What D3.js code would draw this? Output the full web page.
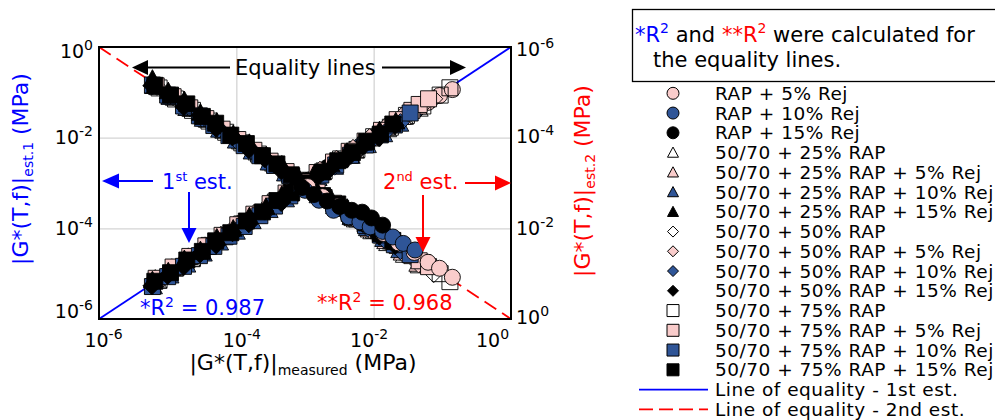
<!DOCTYPE html>
<html><head><meta charset="utf-8">
<script src="https://cdn.jsdelivr.net/npm/d3@7"></script>
<style>
body{margin:0;background:#fff;}
svg{display:block;font-family:"DejaVu Sans",Verdana,sans-serif;}
text{white-space:pre;}
</style></head><body>
<svg id="chart" width="995" height="420"></svg>
<script>
// ---------------- DATA ----------------
const seriesNames = ["RAP + 5% Rej","RAP + 10% Rej","RAP + 15% Rej",
  "50/70 + 25% RAP","50/70 + 25% RAP + 5% Rej","50/70 + 25% RAP + 10% Rej","50/70 + 25% RAP + 15% Rej",
  "50/70 + 50% RAP","50/70 + 50% RAP + 5% Rej","50/70 + 50% RAP + 10% Rej","50/70 + 50% RAP + 15% Rej",
  "50/70 + 75% RAP","50/70 + 75% RAP + 5% Rej","50/70 + 75% RAP + 10% Rej","50/70 + 75% RAP + 15% Rej"];
const lineNames = ["Line of equality - 1st est.","Line of equality - 2nd est."];
const tickVals = [1e-6,1e-4,1e-2,1];
const tickExps = ["-6","-4","-2","0"];
const rightTickExps = ["-6","-4","-2","0"];
const equalityEnds = [1e-6,1];

// |G*| measured (MPa), one list per series
const measured = [
 [1.1e-3,1.8e-3,3.0e-3,5.0e-3,8.3e-3,1.4e-2,2.3e-2,3.9e-2,6.2e-2,9.1e-2,1.4e-1],
 [1.0e-3,1.6e-3,2.6e-3,4.3e-3,6.3e-3,8.9e-3,1.35e-2,1.9e-2,2.7e-2,4.0e-2],
 [9.0e-4,1.35e-3,2.1e-3,3.2e-3,4.8e-3,6.8e-3,9.3e-3,1.35e-2],
 [7.2e-6,1.25e-5,2.2e-5,3.8e-5,6.6e-5,1.15e-4,2.0e-4,3.5e-4,6.1e-4,1.05e-3,1.8e-3,3.1e-3,5.4e-3,9.4e-3,1.6e-2,2.8e-2,4.6e-2],
 [6.6e-6,1.15e-5,2.0e-5,3.5e-5,6.0e-5,1.05e-4,1.8e-4,3.2e-4,5.5e-4,9.5e-4,1.65e-3,2.9e-3,5.0e-3,8.6e-3,1.5e-2,2.6e-2,4.4e-2],
 [6.2e-6,1.08e-5,1.9e-5,3.3e-5,5.7e-5,1.0e-4,1.7e-4,3.0e-4,5.2e-4,9.0e-4,1.55e-3,2.7e-3,4.7e-3,8.1e-3,1.4e-2,2.4e-2],
 [6.0e-6,1.02e-5,1.75e-5,3.0e-5,5.2e-5,9.0e-5,1.55e-4,2.7e-4,4.6e-4,8.0e-4,1.38e-3,2.4e-3,4.1e-3,7.1e-3,1.22e-2,2.1e-2],
 [7.0e-6,1.2e-5,2.1e-5,3.7e-5,6.4e-5,1.1e-4,1.95e-4,3.4e-4,5.9e-4,1.0e-3,1.75e-3,3.0e-3,5.3e-3,9.2e-3,1.6e-2,2.8e-2,4.8e-2,7.5e-2],
 [6.4e-6,1.1e-5,1.95e-5,3.4e-5,5.9e-5,1.02e-4,1.8e-4,3.1e-4,5.4e-4,9.4e-4,1.65e-3,2.85e-3,5.0e-3,8.7e-3,1.5e-2,2.6e-2,4.5e-2],
 [6.1e-6,1.05e-5,1.85e-5,3.2e-5,5.6e-5,9.7e-5,1.7e-4,2.95e-4,5.1e-4,8.9e-4,1.55e-3,2.7e-3,4.7e-3,8.2e-3,1.42e-2,2.45e-2],
 [5.9e-6,1.0e-5,1.72e-5,2.95e-5,5.1e-5,8.8e-5,1.52e-4,2.6e-4,4.5e-4,7.8e-4,1.35e-3,2.35e-3,4.05e-3,7.0e-3,1.2e-2,2.05e-2],
 [7.5e-6,1.3e-5,2.3e-5,4.0e-5,7.0e-5,1.2e-4,2.1e-4,3.7e-4,6.4e-4,1.1e-3,1.9e-3,3.3e-3,5.7e-3,1.0e-2,1.75e-2,3.0e-2,5.2e-2,9.3e-2,1.29e-1],
 [6.8e-6,1.2e-5,2.1e-5,3.6e-5,6.2e-5,1.05e-4,1.8e-4,3.1e-4,5.3e-4,9.0e-4,1.5e-3,2.6e-3,4.4e-3,7.5e-3,1.3e-2,2.2e-2,3.6e-2,4.6e-2,6.3e-2],
 [6.0e-6,1.0e-5,1.7e-5,2.9e-5,4.7e-5,7.8e-5,1.3e-4,2.2e-4,3.6e-4,6.0e-4,1.0e-3,1.7e-3,2.8e-3,4.6e-3,7.6e-3,1.25e-2,2.0e-2,3.4e-2],
 [6.5e-6,1.1e-5,1.9e-5,3.2e-5,5.0e-5,8.3e-5,1.4e-4,2.4e-4,3.9e-4,6.3e-4,1.05e-3,1.8e-3,3.0e-3,4.9e-3,7.9e-3,1.25e-2,1.9e-2]
];
// |G*| 1st estimation (MPa)
const est1 = [
 [1.15e-3,1.9e-3,3.1e-3,5.2e-3,8.6e-3,1.45e-2,2.4e-2,4.0e-2,6.0e-2,8.5e-2,1.15e-1],
 [1.05e-3,1.6e-3,2.5e-3,4.2e-3,6.5e-3,9.0e-3,1.3e-2,1.9e-2,2.8e-2,3.9e-2],
 [9.5e-4,1.3e-3,2.2e-3,3.1e-3,5.0e-3,6.6e-3,9.8e-3,1.3e-2],
 [7.0e-6,1.3e-5,2.1e-5,3.9e-5,6.4e-5,1.2e-4,1.95e-4,3.6e-4,5.9e-4,1.1e-3,1.75e-3,3.2e-3,5.2e-3,9.7e-3,1.55e-2,2.9e-2,4.4e-2],
 [7.8e-6,1.35e-5,2.35e-5,4.1e-5,7.0e-5,1.22e-4,2.1e-4,3.7e-4,6.4e-4,1.1e-3,1.9e-3,3.3e-3,5.7e-3,9.8e-3,1.7e-2,2.9e-2,4.9e-2],
 [5.3e-6,9.2e-6,1.6e-5,2.8e-5,4.9e-5,8.5e-5,1.45e-4,2.55e-4,4.4e-4,7.7e-4,1.3e-3,2.3e-3,4.0e-3,6.9e-3,1.2e-2,2.05e-2],
 [7.2e-6,1.13e-5,2.1e-5,3.3e-5,6.3e-5,9.9e-5,1.86e-4,3.0e-4,5.5e-4,8.9e-4,1.67e-3,2.6e-3,4.9e-3,7.8e-3,1.47e-2,2.3e-2],
 [6.8e-6,1.25e-5,2.0e-5,3.8e-5,6.2e-5,1.15e-4,1.9e-4,3.5e-4,5.7e-4,1.05e-3,1.7e-3,3.1e-3,5.1e-3,9.5e-3,1.55e-2,2.9e-2,4.6e-2,7.2e-2],
 [7.5e-6,1.3e-5,2.3e-5,4.0e-5,6.9e-5,1.2e-4,2.1e-4,3.6e-4,6.3e-4,1.1e-3,1.9e-3,3.3e-3,5.8e-3,1.0e-2,1.75e-2,3.0e-2,5.1e-2],
 [5.4e-6,9.3e-6,1.62e-5,2.8e-5,4.9e-5,8.5e-5,1.5e-4,2.6e-4,4.5e-4,7.8e-4,1.35e-3,2.35e-3,4.1e-3,7.2e-3,1.25e-2,2.15e-2],
 [5.4e-6,9.1e-6,1.44e-5,2.7e-5,4.3e-5,8.0e-5,1.26e-4,2.4e-4,3.7e-4,7.1e-4,1.13e-3,2.1e-3,3.4e-3,6.4e-3,1.0e-2,1.87e-2],
 [7.3e-6,1.35e-5,2.2e-5,4.2e-5,6.8e-5,1.25e-4,2.0e-4,3.8e-4,6.2e-4,1.15e-3,1.85e-3,3.4e-3,5.5e-3,1.05e-2,1.7e-2,3.1e-2,5.0e-2,8.7e-2,1.26e-1],
 [7.9e-6,1.4e-5,2.4e-5,4.1e-5,7.0e-5,1.2e-4,2.05e-4,3.5e-4,6.0e-4,1.0e-3,1.7e-3,2.9e-3,5.0e-3,8.4e-3,1.45e-2,2.5e-2,4.0e-2,5.4e-2,7.2e-2],
 [5.2e-6,8.6e-6,1.45e-5,2.5e-5,4.0e-5,6.7e-5,1.1e-4,1.9e-4,3.1e-4,5.2e-4,8.8e-4,1.5e-3,2.5e-3,4.1e-3,6.9e-3,1.15e-2,1.9e-2,3.5e-2],
 [6.8e-6,1.05e-5,2.0e-5,3.1e-5,5.3e-5,8.0e-5,1.45e-4,2.3e-4,4.1e-4,6.1e-4,1.1e-3,1.75e-3,3.1e-3,4.7e-3,8.2e-3,1.2e-2,2.0e-2]
];
// |G*| 2nd estimation (MPa)
const est2 = [
 [1.2e-3,2.0e-3,3.2e-3,5.2e-3,8.3e-3,1.3e-2,2.1e-2,3.4e-2,5.6e-2,7.6e-2,1.2e-1],
 [1.45e-3,2.4e-3,4.0e-3,5.6e-3,7.2e-3,9.3e-3,1.17e-2,1.55e-2,2.15e-2,3.0e-2],
 [1.26e-3,1.8e-3,2.5e-3,3.3e-3,4.0e-3,4.4e-3,5.9e-3,8.5e-3],
 [7.6e-6,1.3e-5,2.3e-5,4.0e-5,7.0e-5,1.2e-4,2.1e-4,3.7e-4,6.5e-4,1.15e-3,2.0e-3,3.5e-3,6.3e-3,1.15e-2,2.1e-2,3.8e-2,6.5e-2],
 [7.0e-6,1.2e-5,2.15e-5,3.7e-5,6.4e-5,1.1e-4,1.95e-4,3.45e-4,6.0e-4,1.05e-3,1.85e-3,3.3e-3,5.9e-3,1.05e-2,1.9e-2,3.4e-2,6.0e-2],
 [7.2e-6,1.25e-5,2.2e-5,3.8e-5,6.6e-5,1.15e-4,2.0e-4,3.5e-4,6.1e-4,1.05e-3,1.85e-3,3.2e-3,5.6e-3,9.8e-3,1.7e-2,3.0e-2],
 [5.0e-6,9.4e-6,1.48e-5,2.8e-5,4.4e-5,8.3e-5,1.3e-4,2.5e-4,3.9e-4,7.3e-4,1.17e-3,2.2e-3,3.5e-3,6.6e-3,1.04e-2,2.0e-2],
 [7.4e-6,1.25e-5,2.2e-5,3.9e-5,6.8e-5,1.2e-4,2.1e-4,3.7e-4,6.4e-4,1.1e-3,1.95e-3,3.4e-3,6.1e-3,1.1e-2,1.95e-2,3.5e-2,6.2e-2,1.0e-1],
 [6.9e-6,1.2e-5,2.1e-5,3.7e-5,6.4e-5,1.1e-4,1.95e-4,3.4e-4,5.9e-4,1.05e-3,1.85e-3,3.3e-3,5.9e-3,1.05e-2,1.9e-2,3.4e-2,6.1e-2],
 [7.0e-6,1.2e-5,2.1e-5,3.7e-5,6.4e-5,1.1e-4,1.95e-4,3.4e-4,5.9e-4,1.03e-3,1.8e-3,3.2e-3,5.6e-3,9.9e-3,1.75e-2,3.1e-2],
 [7.1e-6,1.1e-5,2.07e-5,3.2e-5,6.2e-5,9.7e-5,1.84e-4,2.9e-4,5.4e-4,8.6e-4,1.63e-3,2.6e-3,4.9e-3,7.9e-3,1.5e-2,2.4e-2],
 [8.0e-6,1.4e-5,2.5e-5,4.3e-5,7.6e-5,1.3e-4,2.3e-4,4.0e-4,7.0e-4,1.2e-3,2.1e-3,3.6e-3,6.2e-3,1.1e-2,1.9e-2,3.3e-2,5.7e-2,1.0e-1,1.5e-1],
 [7.2e-6,1.25e-5,2.2e-5,3.8e-5,6.5e-5,1.1e-4,1.9e-4,3.3e-4,5.6e-4,9.5e-4,1.6e-3,2.8e-3,4.7e-3,8.0e-3,1.4e-2,2.4e-2,4.0e-2,5.2e-2,7.0e-2],
 [6.9e-6,1.15e-5,2.0e-5,3.3e-5,5.4e-5,9.0e-5,1.5e-4,2.5e-4,4.1e-4,6.9e-4,1.15e-3,1.95e-3,3.2e-3,5.3e-3,8.7e-3,1.4e-2,2.3e-2,3.8e-2],
 [7.0e-6,1.15e-5,1.8e-5,3.4e-5,4.8e-5,8.8e-5,1.35e-4,2.5e-4,3.8e-4,6.6e-4,1.0e-3,1.9e-3,2.9e-3,5.1e-3,7.6e-3,1.3e-2,1.85e-2]
];

// ---------------- STYLE ----------------
const seriesShapes = ["circle","circle","circle","triangle","triangle","triangle","triangle",
  "diamond","diamond","diamond","diamond","square","square","square","square"];
const PINK="#F9CCCB", BLUE="#2F5597", BLACK="#000000", WHITE="none";
const seriesFills = [PINK,BLUE,BLACK, WHITE,PINK,BLUE,BLACK, WHITE,PINK,BLUE,BLACK, WHITE,PINK,BLUE,BLACK];
const plotSize = {circle:16, triangle:18, diamond:18, square:16};
const legSize = {circle:12, triangle:11, diamond:11, square:12};
const est1Order = [0,1,2, 3,7,11, 4,8,12, 5,9,13, 6,10,14];
const est2Order = [3,7,11, 4,8,12, 5,9,13, 6,10,14, 0,1,2];

function shapePath(shape, s){
  const h=s/2;
  if(shape==="circle") return `M${h},0A${h},${h} 0 1,1 ${-h},0A${h},${h} 0 1,1 ${h},0Z`;
  if(shape==="square") return `M${-h},${-h}H${h}V${h}H${-h}Z`;
  if(shape==="triangle") return `M0,${-h}L${h},${h*0.85}L${-h},${h*0.85}Z`;
  return `M0,${-h}L${h},0L0,${h}L${-h},0Z`;
}

const svg = d3.select("#chart");
const M={l:99,r:511,t:47,b:319};
const x = d3.scaleLog().domain([1e-6,1]).range([M.l,M.r]);
const yL = d3.scaleLog().domain([1e-6,1]).range([M.b,M.t]);
const yR = d3.scaleLog().domain([1e-6,1]).range([M.t,M.b]);

// grid
const gridX = svg.append("g").attr("transform",`translate(0,${M.b})`)
  .call(d3.axisBottom(x).tickValues([1e-4,1e-2]).tickSize(-(M.b-M.t)).tickFormat(""));
gridX.select(".domain").remove();
gridX.selectAll("line").attr("stroke","#d4d4d4").attr("stroke-width",1.3);
const gridY = svg.append("g").attr("transform",`translate(${M.l},0)`)
  .call(d3.axisLeft(yL).tickValues([1e-4,1e-2]).tickSize(-(M.r-M.l)).tickFormat(""));
gridY.select(".domain").remove();
gridY.selectAll("line").attr("stroke","#d4d4d4").attr("stroke-width",1.3);

// equality lines
svg.append("line").attr("x1",x(equalityEnds[0])).attr("y1",yL(equalityEnds[0]))
  .attr("x2",x(equalityEnds[1])).attr("y2",yL(equalityEnds[1]))
  .attr("stroke","#0000FF").attr("stroke-width",1.8);
svg.append("line").attr("x1",x(equalityEnds[0])).attr("y1",yR(equalityEnds[0]))
  .attr("x2",x(equalityEnds[1])).attr("y2",yR(equalityEnds[1]))
  .attr("stroke","#FF0000").attr("stroke-width",1.8).attr("stroke-dasharray","14,7");

// markers
const series = seriesNames.map((name,i)=>({name, shape:seriesShapes[i], fill:seriesFills[i],
  pts: measured[i].map((m,j)=>({m, e1:est1[i][j], e2:est2[i][j]}))}));

const g1 = svg.append("g");
est1Order.forEach(i=>{
  const s=series[i];
  g1.append("g").selectAll("path").data(s.pts).join("path")
    .attr("d",shapePath(s.shape, plotSize[s.shape]))
    .attr("transform",d=>`translate(${x(d.m)},${yL(d.e1)})`)
    .attr("fill",s.fill).attr("stroke","#000").attr("stroke-width",0.9);
});
const g2 = svg.append("g");
est2Order.forEach(i=>{
  const s=series[i];
  g2.append("g").selectAll("path").data(s.pts).join("path")
    .attr("d",shapePath(s.shape, plotSize[s.shape]))
    .attr("transform",d=>`translate(${x(d.m)},${yR(d.e2)})`)
    .attr("fill",s.fill).attr("stroke","#000").attr("stroke-width",0.9);
});

// frame
svg.append("rect").attr("x",M.l).attr("y",M.t).attr("width",M.r-M.l).attr("height",M.b-M.t)
  .attr("fill","none").attr("stroke","#000").attr("stroke-width",2);

// axes labels
function expText(sel, exps){
  sel.each(function(d,i){
    const t=d3.select(this); t.text(null);
    t.append("tspan").text("10");
    t.append("tspan").attr("font-size",14).attr("dy",-8).text(exps[i]);
  });
}
const axStyle = g=>g.attr("font-size",19).attr("font-family","DejaVu Sans, Verdana, sans-serif");
const xShift=[4,5,-5,-19];
const gxa = svg.append("g").attr("transform",`translate(0,${M.b})`)
  .call(d3.axisBottom(x).tickValues(tickVals).tickSize(0).tickFormat("")).call(axStyle);
gxa.select(".domain").remove();
gxa.selectAll(".tick text").attr("y",28).attr("dy",null).attr("dx",(d,i)=>xShift[i]).attr("fill","#000").call(expText,tickExps);

const lShift=[-9,-1.3,-0.7,3.5];
const gya = svg.append("g").attr("transform",`translate(${M.l},0)`)
  .call(d3.axisLeft(yL).tickValues(tickVals).tickSize(0).tickFormat("")).call(axStyle);
gya.select(".domain").remove();
gya.selectAll(".tick text").attr("x",-6).attr("dy",null).attr("y",(d,i)=>lShift[i]+7).attr("fill","#000").call(expText,tickExps);

const rShift=[1,-1.7,-1.3,-2.5];
const gra = svg.append("g").attr("transform",`translate(${M.r},0)`)
  .call(d3.axisRight(yR).tickValues(tickVals).tickSize(0).tickFormat("")).call(axStyle);
gra.select(".domain").remove();
gra.selectAll(".tick text").attr("x",5).attr("dy",null).attr("y",(d,i)=>rShift[i]+7).attr("fill","#000").call(expText,rightTickExps);

// rich text helper
function rich(parent, px, py, parts, o){
  const t=parent.append("text").attr("x",px).attr("y",py).attr("font-size",o.size).attr("fill",o.fill||"#000");
  if(o.anchor) t.attr("text-anchor",o.anchor);
  if(o.transform) t.attr("transform",o.transform);
  let cur=0;
  parts.forEach(p=>{
    const target = p.sup ? -(o.supShift||8) : p.sub ? (o.subShift||5) : 0;
    const ts=t.append("tspan").attr("dy",target-cur).text(p.t);
    cur=target;
    if(p.sup||p.sub) ts.attr("font-size",o.small||14);
    if(p.fill) ts.attr("fill",p.fill);
  });
  return t;
}

// axis titles
rich(svg,303,370,[{t:"|G*(T,f)|"},{t:"measured",sub:true},{t:" (MPa)"}],{size:22,anchor:"middle",small:14,subShift:5});
rich(svg,0,0,[{t:"|G*(T,f)|"},{t:"est.1",sub:true},{t:" (MPa)"}],{size:22,anchor:"middle",small:14,subShift:5,fill:"#0000FF",transform:"translate(28,169) rotate(-90)"});
rich(svg,0,0,[{t:"|G*(T,f)|"},{t:"est.2",sub:true},{t:" (MPa)"}],{size:22,anchor:"middle",small:14,subShift:5,fill:"#FF0000",transform:"translate(590,181) rotate(-90)"});

// arrows
function arrow(x1,y1,x2,y2,color,hl,hw){
  const dx=x2-x1, dy=y2-y1, L=Math.hypot(dx,dy), ux=dx/L, uy=dy/L;
  const bx=x2-ux*hl, by=y2-uy*hl;
  svg.append("line").attr("x1",x1).attr("y1",y1).attr("x2",bx).attr("y2",by).attr("stroke",color).attr("stroke-width",2);
  svg.append("path").attr("d",`M${x2},${y2}L${bx-uy*hw/2},${by+ux*hw/2}L${bx+uy*hw/2},${by-ux*hw/2}Z`).attr("fill",color);
}
arrow(230,67.5,132,67.5,"#000",16,15);
arrow(382,67.5,466,67.5,"#000",16,15);
arrow(153,181,102,181,"#0000FF",17,15);
arrow(189,192,189,243,"#0000FF",15,15);
arrow(465,183,511,183,"#FF0000",16,15);
arrow(423,195,423,252,"#FF0000",15,15);

// annotations
svg.append("text").attr("x",235).attr("y",75).attr("font-size",21).attr("fill","#000").text("Equality lines");
rich(svg,162,189,[{t:"1"},{t:"st",sup:true},{t:" est."}],{size:21,small:13,supShift:8,fill:"#0000FF"});
rich(svg,383,189,[{t:"2"},{t:"nd",sup:true},{t:" est."}],{size:21,small:13,supShift:8,fill:"#FF0000"});
rich(svg,140,315,[{t:"*R"},{t:"2",sup:true},{t:" = 0.987"}],{size:21,small:14,supShift:8,fill:"#0000FF"});
rich(svg,317,310,[{t:"**R"},{t:"2",sup:true},{t:" = 0.968"}],{size:21,small:14,supShift:8,fill:"#FF0000"});

// note box
svg.append("rect").attr("x",632.5).attr("y",9.5).attr("width",420).attr("height",72)
  .attr("fill","#fff").attr("stroke","#000").attr("stroke-width",1.3);
rich(svg,635,42,[{t:"*R",fill:"#0000FF"},{t:"2",sup:true,fill:"#0000FF"},{t:" and "},{t:"**R",fill:"#FF0000"},{t:"2",sup:true,fill:"#FF0000"},{t:" were calculated for"}],{size:21,small:14,supShift:9});
svg.append("text").attr("x",653).attr("y",67).attr("font-size",21).attr("fill","#000").text("the equality lines.");

// legend
const leg = svg.append("g");
const rowY = i=>93.3+19.75*i;
series.forEach((s,i)=>{
  leg.append("path").attr("d",shapePath(s.shape,legSize[s.shape]))
    .attr("transform",`translate(673,${rowY(i)})`)
    .attr("fill",s.fill==="none"?"#fff":s.fill).attr("stroke","#000").attr("stroke-width",1);
  leg.append("text").attr("x",715).attr("y",rowY(i)+6.5).attr("font-size",18.5).attr("letter-spacing",0.5).attr("fill","#000").text(s.name);
});
lineNames.forEach((n,k)=>{
  const yy=rowY(15+k);
  const ln=leg.append("line").attr("x1",639).attr("x2",708).attr("y1",yy).attr("y2",yy)
    .attr("stroke",k===0?"#0000FF":"#FF0000").attr("stroke-width",1.8);
  if(k===1) ln.attr("stroke-dasharray","14,6");
  leg.append("text").attr("x",715).attr("y",yy+6.5).attr("font-size",18.5).attr("letter-spacing",0.5).attr("fill","#000").text(n);
});
</script>
</body></html>
